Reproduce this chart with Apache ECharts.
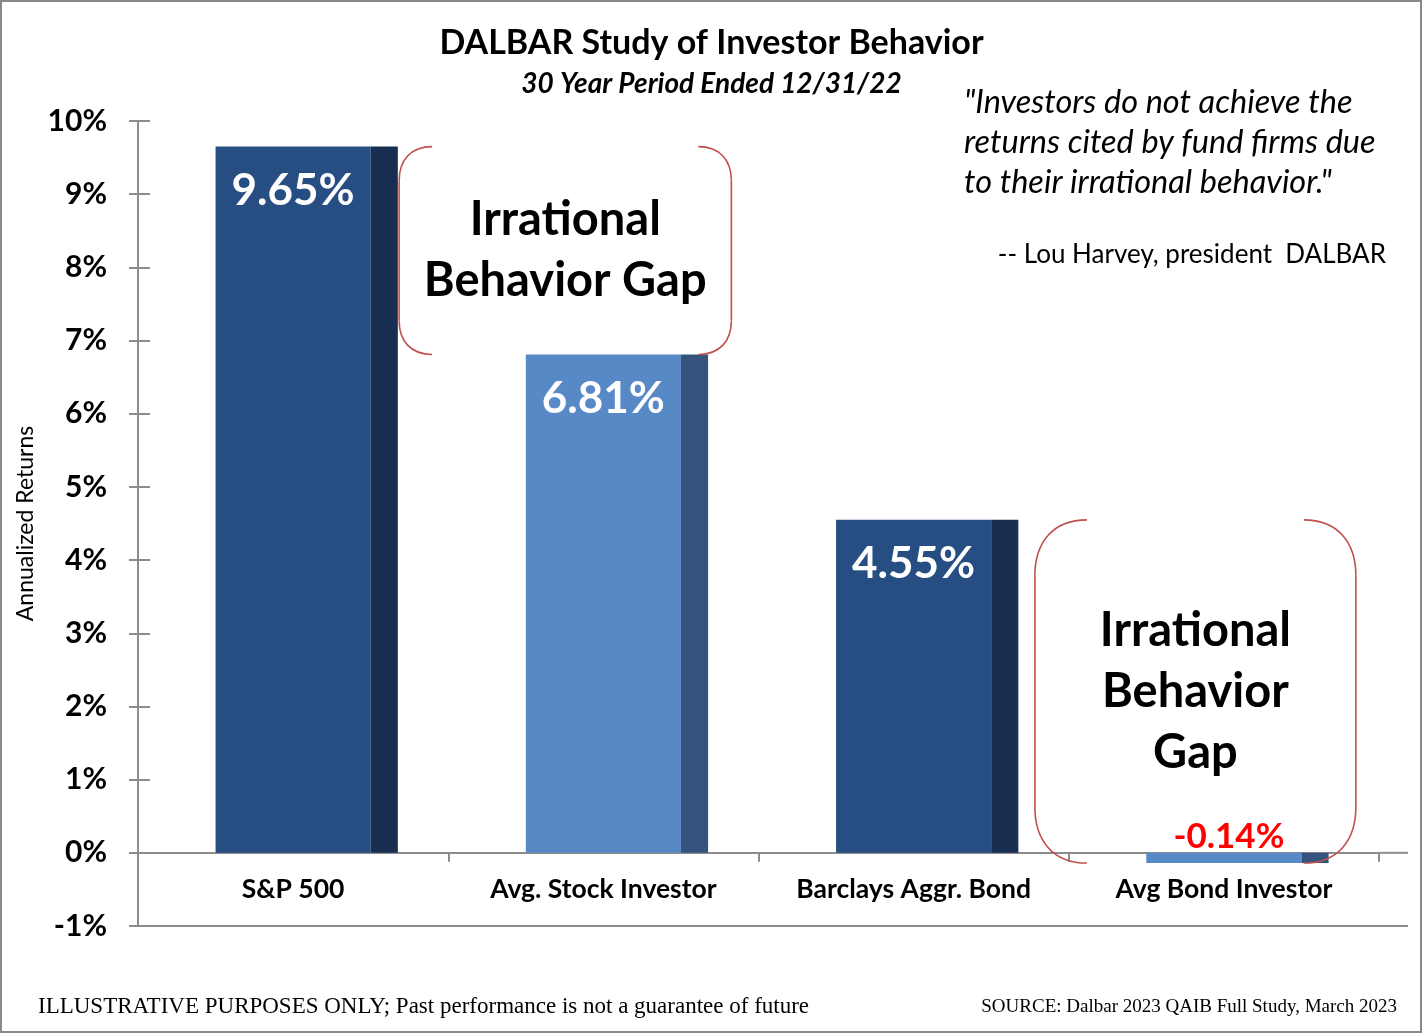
<!DOCTYPE html>
<html>
<head>
<meta charset="utf-8">
<script src="https://cdn.jsdelivr.net/npm/echarts@6/dist/echarts.min.js"></script>
<style>
  html, body { margin: 0; padding: 0; background: #fff; }
  #chart { width: 1423px; height: 1034px; }
</style>
</head>
<body>
<div id="chart"></div>
<script>
// data
const categories = ["S&P 500", "Avg. Stock Investor", "Barclays Aggr. Bond", "Avg Bond Investor"];
const returns = [9.65, 6.81, 4.55, -0.14];
const yTicks = { min: -1, max: 10, step: 1 };

// front / side colours per bar
const frontColors = ["#264E82", "#5689C6", "#264E82", "#5689C6"];
const sideColors = ["#172E50", "#34547E", "#172E50", "#34547E"];

const FONT = "Lato, 'Open Sans', sans-serif";
const RED = "#C0504D";
const AXIS = "#8c8c8c";

const chart = echarts.init(document.getElementById("chart"));

const option = {
  animation: false,
  backgroundColor: "#fff",
  title: {
    text: "DALBAR Study of Investor Behavior",
    subtext: "30 Year Period Ended 12/31/22",
    left: "center",
    top: 21,
    itemGap: 10,
    textStyle: { fontFamily: FONT, fontSize: 34, fontWeight: "bold", color: "#000" },
    subtextStyle: { fontFamily: FONT, fontSize: 28, fontWeight: "bold", fontStyle: "italic", color: "#000" }
  },
  grid: { left: 138, right: 44, top: 121, bottom: 108, containLabel: false },
  xAxis: {
    type: "category",
    data: categories,
    axisLine: { onZero: true, lineStyle: { color: AXIS, width: 2 } },
    axisTick: { show: true, length: 9, lineStyle: { color: AXIS, width: 2 } },
    // labels are drawn under the zero line below
    axisLabel: { show: false },
    splitLine: { show: false }
  },
  yAxis: [
    {
      type: "value",
      min: yTicks.min,
      max: yTicks.max,
      interval: yTicks.step,
      name: "Annualized Returns",
      nameLocation: "middle",
      nameRotate: 90,
      nameGap: 92,
      nameTextStyle: { fontFamily: FONT, fontSize: 23, color: "#000" },
      axisLine: { show: true, lineStyle: { color: AXIS, width: 2 } },
      axisTick: { show: true, length: 9, lineStyle: { color: AXIS, width: 2 } },
      axisLabel: { formatter: "{value}%", fontFamily: FONT, fontSize: 30, fontWeight: "bold", color: "#000", margin: 31 },
      splitLine: { show: false }
    },
    {
      type: "value",
      min: yTicks.min,
      max: yTicks.max,
      interval: yTicks.step,
      position: "left",
      axisLine: { show: false },
      axisTick: { show: true, inside: true, length: 12, lineStyle: { color: AXIS, width: 2 } },
      axisLabel: { show: false },
      splitLine: { show: false }
    }
  ],
  series: [
    {
      type: "custom",
      xAxisIndex: 0,
      yAxisIndex: 0,
      data: returns.map((v, i) => [i, v]),
      renderItem(params, api) {
        const i = api.value(0);
        const v = api.value(1);
        const top = api.coord([i, v]);
        const base = api.coord([i, 0]);
        const bw = api.size([1, 0])[0] * 0.5;
        const side = bw * 0.175;
        const x0 = top[0] - bw / 2;
        const y0 = Math.min(top[1], base[1]);
        const h = Math.abs(base[1] - top[1]);
        const label = v >= 0
          ? { type: "text", x: top[0], y: top[1] + 44,
              style: { text: v.toFixed(2) + "%", fill: "#fff", font: "bold 44px " + FONT, align: "center", verticalAlign: "middle" } }
          : { type: "text", x: top[0] + 5, y: base[1] - 16,
              style: { text: v.toFixed(2) + "%", fill: "#FF0000", font: "bold 35px " + FONT, align: "center", verticalAlign: "middle" } };
        return {
          type: "group",
          children: [
            { type: "rect", shape: { x: x0, y: y0, width: bw, height: h }, style: { fill: frontColors[i] } },
            { type: "rect", shape: { x: x0 + bw, y: y0, width: side, height: h }, style: { fill: sideColors[i] } },
            label
          ]
        };
      },
      z: 1
    }
  ]
};

chart.setOption(option);

// bracket shapes: two curves and one straight segment per side
function bracket(L, R, T, B, c, r) {
  const out = [];
  [[L, 1], [R, -1]].forEach(([X, d]) => {
    const style = { fill: null, stroke: RED, lineWidth: 1.6 };
    out.push({ type: "bezierCurve", z: 10, style,
      shape: { x1: X + d * c, y1: T, cpx1: X + d * c * 0.35, cpy1: T, cpx2: X, cpy2: T + r * 0.4, x2: X, y2: T + r } });
    out.push({ type: "line", z: 10, style, shape: { x1: X, y1: T + r, x2: X, y2: B - r } });
    out.push({ type: "bezierCurve", z: 10, style,
      shape: { x1: X, y1: B - r, cpx1: X, cpy1: B - r * 0.4, cpx2: X + d * c * 0.35, cpy2: B, x2: X + d * c, y2: B } });
  });
  return out;
}

const cx = categories.map((c, i) => chart.convertToPixel({ xAxisIndex: 0 }, i));
const py = v => chart.convertToPixel({ yAxisIndex: 0 }, v);

const b1 = { L: cx[0] + 106, R: cx[1] + 128, T: py(returns[0]), B: py(returns[1]) };
const b2 = { L: cx[3] - 189, R: cx[3] + 132, T: py(returns[2]), B: py(returns[3]) };

const boxText = (box, text) => ({
  type: "text",
  x: (box.L + box.R) / 2,
  y: (box.T + box.B) / 2,
  style: { text, font: "bold 47px " + FONT, fill: "#000", align: "center", verticalAlign: "middle", lineHeight: 61 },
  z: 10
});

const y0 = py(0), yMin = py(yTicks.min);
const plotLeft = cx[0] - (cx[1] - cx[0]) / 2;
const plotRight = cx[categories.length - 1] + (cx[1] - cx[0]) / 2;

const catLabels = categories.map((c, i) => ({
  type: "text", x: cx[i], y: y0 + 37,
  style: { text: c, font: "bold 26.5px " + FONT, fill: "#000", align: "center", verticalAlign: "middle" }
}));

chart.setOption({
  graphic: [
    { type: "rect", shape: { x: 1, y: 1, width: 1420, height: 1031 }, style: { fill: null, stroke: "#898989", lineWidth: 2 }, z: 20 },
    ...bracket(b1.L, b1.R, b1.T, b1.B, 33, 34),
    ...bracket(b2.L, b2.R, b2.T, b2.B, 52, 56),
    boxText(b1, "Irrational\nBehavior Gap"),
    boxText(b2, "Irrational\nBehavior\nGap"),
    ...catLabels,
    { type: "line", shape: { x1: plotRight, y1: y0, x2: 1408, y2: y0 }, style: { stroke: AXIS, lineWidth: 2 } },
    { type: "line", shape: { x1: plotLeft, y1: yMin, x2: 1408, y2: yMin }, style: { stroke: AXIS, lineWidth: 2 } },
    {
      type: "text", left: 964, top: 83,
      style: { text: "\"Investors do not achieve the\nreturns cited by fund firms due\nto their irrational behavior.\"",
               font: "italic 32.5px " + FONT, fill: "#000", lineHeight: 40 }
    },
    {
      type: "text", x: 1386, y: 255,
      style: { text: "-- Lou Harvey, president  DALBAR", font: "26px " + FONT, fill: "#000", align: "right", verticalAlign: "middle" }
    },
    {
      type: "text", x: 38, y: 1007,
      style: { text: "ILLUSTRATIVE PURPOSES ONLY; Past performance is not a guarantee of future",
               font: "23px 'Liberation Serif', serif", fill: "#000", align: "left", verticalAlign: "middle" }
    },
    {
      type: "text", x: 1397, y: 1007,
      style: { text: "SOURCE: Dalbar 2023 QAIB Full Study, March 2023",
               font: "19px 'Liberation Serif', serif", fill: "#000", align: "right", verticalAlign: "middle" }
    }
  ]
});
</script>
</body>
</html>
